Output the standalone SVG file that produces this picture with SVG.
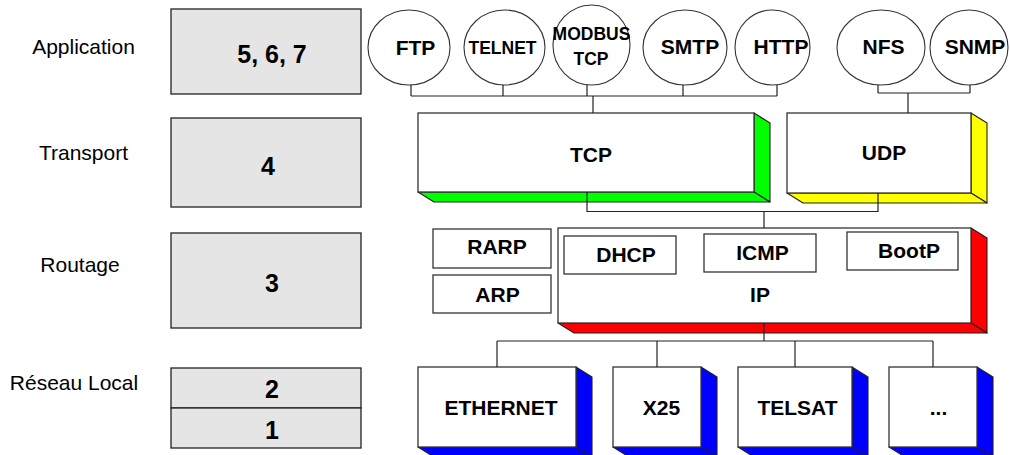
<svg xmlns="http://www.w3.org/2000/svg" width="1010" height="455" viewBox="0 0 1010 455">
<style>
.lbl{font-family:"Liberation Sans",Arial,sans-serif;font-size:21px;fill:#000;text-anchor:middle}
.num{font-family:"Liberation Sans",Arial,sans-serif;font-size:25px;font-weight:bold;fill:#000;text-anchor:middle}
.t{font-family:"Liberation Sans",Arial,sans-serif;font-size:21px;font-weight:bold;fill:#000;text-anchor:middle}
.ts{font-family:"Liberation Sans",Arial,sans-serif;font-size:17.5px;font-weight:bold;fill:#000;text-anchor:middle}
.layer{fill:#e5e5e5;stroke:#222;stroke-width:1.3}
.front{fill:#fff;stroke:#333;stroke-width:1.3}
.circ{fill:#fff;stroke:#333;stroke-width:1.1}
.face{stroke:#222;stroke-width:1.1;stroke-linejoin:round}
.g{fill:#00ff00}.y{fill:#ffff00}.r{fill:#ff0000}.b{fill:#0000ff}
.con{fill:none;stroke:#222;stroke-width:1.2}
</style>

<g id="layers">
<g id="layer-app"><text class="lbl" x="83.5" y="54">Application</text><rect class="layer" x="171" y="9" width="190" height="85"/><text class="num" x="272" y="63">5, 6, 7</text></g>
<g id="layer-transport"><text class="lbl" x="83.5" y="160">Transport</text><rect class="layer" x="171" y="118" width="190" height="89"/><text class="num" x="268" y="175">4</text></g>
<g id="layer-routage"><text class="lbl" x="80" y="272">Routage</text><rect class="layer" x="171" y="233" width="190" height="95"/><text class="num" x="272" y="292">3</text></g>
<g id="layer-local"><text class="lbl" x="74" y="390">Réseau Local</text><rect class="layer" x="171" y="368" width="190" height="40"/><text class="num" x="272" y="398">2</text><rect class="layer" x="171" y="408" width="190" height="40"/><text class="num" x="272" y="439">1</text></g>
</g>

<g id="apps">
<g id="ftp"><ellipse class="circ" cx="409" cy="47.5" rx="41" ry="37.5"/><text class="t" x="415.5" y="55">FTP</text></g>
<g id="telnet"><ellipse class="circ" cx="504.5" cy="47.5" rx="40.5" ry="37.5"/><text class="ts" x="502.5" y="54">TELNET</text></g>
<g id="modbus"><ellipse class="circ" cx="591.5" cy="45" rx="38.5" ry="40"/><text class="ts" x="591.5" y="40">MODBUS</text><text class="ts" x="591" y="65">TCP</text></g>
<g id="smtp"><ellipse class="circ" cx="685" cy="47.5" rx="42" ry="37.5"/><text class="t" x="690" y="54">SMTP</text></g>
<g id="http"><ellipse class="circ" cx="772.5" cy="47.5" rx="37.5" ry="37.5"/><text class="t" x="781" y="54">HTTP</text></g>
<g id="nfs"><ellipse class="circ" cx="881" cy="47.5" rx="44" ry="37.5"/><text class="t" x="883.5" y="54">NFS</text></g>
<g id="snmp"><ellipse class="circ" cx="969" cy="47.5" rx="39" ry="37.5"/><text class="t" x="975" y="54">SNMP</text></g>
</g>

<g id="tcp">
<path class="face g" d="M754,113 L770,123 L770,202 L754,192 Z"/>
<path class="face g" d="M418,192 L434,202 L770,202 L754,192 Z"/>
<rect class="front" x="418" y="113" width="336" height="79"/>
<text class="t" x="591" y="162">TCP</text>
</g>
<g id="udp">
<path class="face y" d="M971,113 L987,123 L987,203 L971,193 Z"/>
<path class="face y" d="M787,193 L803,203 L987,203 L971,193 Z"/>
<rect class="front" x="787" y="113" width="184" height="80"/>
<text class="t" x="884" y="160">UDP</text>
</g>

<g id="rarp"><rect class="front" x="433" y="229" width="118" height="39"/><text class="t" x="497" y="254">RARP</text></g>
<g id="arp"><rect class="front" x="433" y="275" width="118" height="38"/><text class="t" x="497.5" y="302">ARP</text></g>

<g id="ip">
<path class="face r" d="M971,228 L987,238 L987,333 L971,323 Z"/>
<path class="face r" d="M558,323 L574,333 L987,333 L971,323 Z"/>
<rect class="front" x="558" y="228" width="413" height="95"/>
<text class="t" x="760" y="302">IP</text>
</g>
<g id="dhcp"><rect class="front" x="564" y="236" width="112" height="38"/><text class="t" x="626" y="262">DHCP</text></g>
<g id="icmp"><rect class="front" x="704" y="234" width="112" height="38"/><text class="t" x="762.5" y="260">ICMP</text></g>
<g id="bootp"><rect class="front" x="847" y="232" width="111" height="38"/><text class="t" x="909" y="258">BootP</text></g>

<g id="ethernet">
<path class="face b" d="M576,367 L592,377 L592,457 L576,447 Z"/>
<path class="face b" d="M418,447 L434,457 L592,457 L576,447 Z"/>
<rect class="front" x="418" y="367" width="158" height="80"/>
<text class="t" x="501" y="415">ETHERNET</text>
</g>
<g id="x25">
<path class="face b" d="M701,367 L717,377 L717,457 L701,447 Z"/>
<path class="face b" d="M613,447 L629,457 L717,457 L701,447 Z"/>
<rect class="front" x="613" y="367" width="88" height="80"/>
<text class="t" x="661.5" y="415">X25</text>
</g>
<g id="telsat">
<path class="face b" d="M852,367 L868,377 L868,457 L852,447 Z"/>
<path class="face b" d="M738,447 L754,457 L868,457 L852,447 Z"/>
<rect class="front" x="738" y="367" width="114" height="80"/>
<text class="t" x="797.5" y="415">TELSAT</text>
</g>
<g id="other">
<path class="face b" d="M977,367 L993,377 L993,457 L977,447 Z"/>
<path class="face b" d="M889,447 L905,457 L993,457 L977,447 Z"/>
<rect class="front" x="889" y="367" width="88" height="80"/>
<text class="t" x="938.5" y="415">...</text>
</g>

<g id="connectors">
<path class="con" d="M411,85 V96 M503,85 V96 M587,85 V96 M683,85 V96 M777,85 V96 M411,96 H777 M593,96 V113"/>
<path class="con" d="M878,85 V93 M970,85 V93 M878,93 H970 M908,93 V113"/>
<path class="con" d="M587,192 V211.5 H878 V193 M764,211.5 V228"/>
<path class="con" d="M764,323 V341 M497,341 H933 M497,341 V367 M657,341 V367 M795,341 V367 M933,341 V367"/>
</g>
</svg>
